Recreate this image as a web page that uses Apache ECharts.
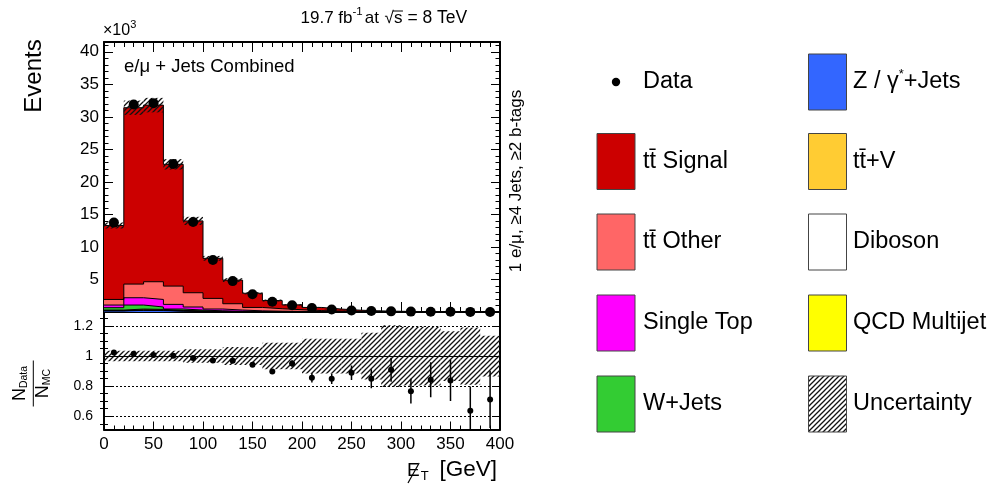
<!DOCTYPE html>
<html>
<head>
<meta charset="utf-8">
<script src="https://cdn.jsdelivr.net/npm/echarts@6/dist/echarts.min.js"></script>
<style>
  html, body { margin: 0; padding: 0; background: #fff; }
  #chart { width: 992px; height: 489px; }
</style>
</head>
<body>
<div id="chart"></div>
<script>
// Missing transverse energy, 20 GeV bins from 0 to 400 GeV
const binEdges = [0, 20, 40, 60, 80, 100, 120, 140, 160, 180, 200, 220, 240, 260, 280, 300, 320, 340, 360, 380, 400];
const binCenters = [10, 30, 50, 70, 90, 110, 130, 150, 170, 190, 210, 230, 250, 270, 290, 310, 330, 350, 370, 390];

// Expected yields per bin, in thousands of events
const zJets     = [0.17, 0.25, 0.22, 0.14, 0.08, 0.055, 0.033, 0.022, 0.016, 0.011, 0.008, 0.005, 0.004, 0.003, 0.002, 0.0016, 0.001, 0.0008, 0.0005, 0.0005];
const diboson   = [0.03, 0.04, 0.04, 0.025, 0.015, 0.01, 0.006, 0.004, 0.003, 0.002, 0.0015, 0.001, 0.001, 0.0005, 0.0005, 0.0004, 0.0003, 0.0002, 0.0002, 0.0002];
const qcd       = [0.02, 0.03, 0.02, 0.01, 0.005, 0.003, 0.002, 0.001, 0.001, 0.001, 0.0005, 0.0005, 0, 0, 0, 0, 0, 0, 0, 0];
const ttV       = [0.08, 0.13, 0.12, 0.075, 0.05, 0.032, 0.019, 0.013, 0.01, 0.006, 0.005, 0.0035, 0.003, 0.0015, 0.0015, 0.001, 0.0007, 0.0005, 0.0003, 0.0003];
const wJets     = [0.36, 0.62, 0.37, 0.21, 0.15, 0.08, 0.06, 0.04, 0.02, 0.015, 0.01, 0.008, 0.005, 0.004, 0.002, 0.001, 0.001, 0.0005, 0.0005, 0.0003];
const singleTop = [0.41, 1.12, 1.16, 0.71, 0.47, 0.28, 0.18, 0.10, 0.07, 0.045, 0.025, 0.017, 0.012, 0.007, 0.005, 0.004, 0.002, 0.002, 0.0015, 0.0007];
const ttOther   = [0.86, 2.10, 2.72, 2.81, 2.19, 1.63, 0.97, 0.52, 0.38, 0.27, 0.17, 0.105, 0.065, 0.044, 0.029, 0.019, 0.013, 0.008, 0.005, 0.004];
const ttSignal  = [11.37, 27.11, 27.15, 18.72, 11.04, 6.16, 3.63, 2.18, 1.26, 0.75, 0.48, 0.31, 0.18, 0.11, 0.07, 0.048, 0.032, 0.022, 0.014, 0.009];

// Observed events per bin, in thousands
const dataCounts = [13.74, 31.9, 32.1, 22.75, 13.82, 8.0, 4.75, 2.72, 1.58, 1.05, 0.60, 0.38, 0.24, 0.145, 0.10, 0.058, 0.042, 0.0285, 0.014, 0.0107];

// Data / MC ratio and its statistical error
const ratioValues = [1.024, 1.016, 1.007, 1.002, 0.987, 0.971, 0.969, 0.942, 0.898, 0.951, 0.856, 0.849, 0.889, 0.849, 0.909, 0.767, 0.843, 0.838, 0.637, 0.712];
const ratioErrors = [0.004, 0.003, 0.003, 0.003, 0.004, 0.005, 0.007, 0.009, 0.012, 0.022, 0.031, 0.035, 0.048, 0.063, 0.08, 0.082, 0.116, 0.136, 0.16, 0.19];

// Relative systematic uncertainty on the total expectation
const uncRel = [0.035, 0.035, 0.035, 0.035, 0.045, 0.045, 0.06, 0.06, 0.088, 0.088, 0.115, 0.115, 0.115, 0.155, 0.205, 0.195, 0.195, 0.165, 0.19, 0.135];

// Axis labels
const ratioTickLabels = [0.6, 0.8, 1.0, 1.2];
const ratioMinorTicks = [0.55, 0.65, 0.7, 0.75, 0.85, 0.9, 0.95, 1.05, 1.1, 1.15, 1.25];

const FONT = '"Liberation Sans", Arial, sans-serif';

// Stack order, bottom to top
const layers = [
  { name: 'Z / γ*+Jets', values: zJets,     color: '#3366ff' },
  { name: 'Diboson',     values: diboson,   color: '#ffffff' },
  { name: 'QCD Multijet',values: qcd,       color: '#ffff00' },
  { name: 'tt̄+V',        values: ttV,       color: '#ffcc33' },
  { name: 'W+Jets',      values: wJets,     color: '#33cc33' },
  { name: 'Single Top',  values: singleTop, color: '#ff00ff' },
  { name: 'tt̄ Other',    values: ttOther,   color: '#ff6666' },
  { name: 'tt̄ Signal',   values: ttSignal,  color: '#cc0000' }
];

const cumulative = [];
layers.forEach((layer, k) => {
  cumulative.push(layer.values.map((v, i) => v + (k > 0 ? cumulative[k - 1][i] : 0)));
});
const mcTotal = cumulative[cumulative.length - 1];

// Diagonal hatch pattern for the uncertainty bands
function makeHatch() {
  const s = 5;
  const c = document.createElement('canvas');
  c.width = s; c.height = s;
  const ctx = c.getContext('2d');
  ctx.strokeStyle = '#111';
  ctx.lineWidth = 1.3;
  ctx.beginPath();
  ctx.moveTo(0, s); ctx.lineTo(s, 0);
  ctx.moveTo(-1, 1); ctx.lineTo(1, -1);
  ctx.moveTo(s - 1, s + 1); ctx.lineTo(s + 1, s - 1);
  ctx.stroke();
  return c;
}
const hatchCanvas = makeHatch();
const hatchFill = { image: hatchCanvas, repeat: 'repeat' };

// Text helpers
const mctx = document.createElement('canvas').getContext('2d');
function textWidth(t, size) {
  mctx.font = size + 'px ' + FONT;
  return mctx.measureText(t).width;
}
function textEl(x, y, t, size, extra) {
  extra = extra || {};
  return Object.assign({
    type: 'text', x: x, y: y, silent: true,
    style: {
      text: t, font: size + 'px ' + FONT, fill: '#000',
      align: extra.align || 'left', verticalAlign: extra.va || 'middle',
      textAlign: extra.align || 'left', textVerticalAlign: extra.va || 'middle'
    }
  }, extra.rotation !== undefined ? { rotation: extra.rotation } : {});
}
// Lays out a run of text pieces (with optional super/subscripts) from x
function textRun(x, yMid, parts, elements) {
  let cx = x;
  const boxes = [];
  parts.forEach(p => {
    const w = textWidth(p.t, p.s);
    cx += p.pre || 0;
    elements.push(textEl(cx, yMid + (p.dy || 0), p.t, p.s));
    boxes.push({ x: cx, w: w, p: p });
    cx += w + (p.post || 0);
  });
  return { end: cx, boxes: boxes };
}
function runWidth(parts) {
  return parts.reduce((a, p) => a + textWidth(p.t, p.s) + (p.pre || 0) + (p.post || 0), 0);
}
function lineEl(x1, y1, x2, y2, w) {
  return { type: 'line', silent: true, shape: { x1: x1, y1: y1, x2: x2, y2: y2 }, style: { stroke: '#000', lineWidth: w || 1 } };
}

const graphics = [];

// Luminosity and energy
{
  const r = textRun(300.5, 18.5, [
    { t: '19.7 fb', s: 17 },
    { t: '-1', s: 11.5, dy: -6.5, post: 2 },
    { t: 'at ', s: 17, post: 1 },
    { t: '√', s: 17 },
    { t: 's', s: 17, post: 5 },
    { t: '= 8 TeV', s: 17.5 }
  ], graphics);
  const sBox = r.boxes[4];
  graphics.push(lineEl(sBox.x - 1, 11, sBox.x + sBox.w + 0.5, 11, 1));
}

// ×10^3 multiplier
textRun(103, 31, [{ t: '×10', s: 16 }, { t: '3', s: 11, dy: -6 }], graphics);

// Channel label
graphics.push(textEl(124, 67, 'e/μ + Jets Combined', 18.5));

// Selection label (rotated)
graphics.push(textEl(516, 181, '1 e/μ, ≥4 Jets, ≥2 b-tags', 17, { align: 'center', rotation: Math.PI / 2 }));

// Y axis titles
graphics.push(textEl(34, 76, 'Events', 24, { align: 'center', rotation: Math.PI / 2 }));
{
  const kids = [];
  const num = [{ t: 'N', s: 18 }, { t: 'Data', s: 10.5, dy: 4.5 }];
  const den = [{ t: 'N', s: 18 }, { t: 'MC', s: 10.5, dy: 4.5 }];
  textRun(-runWidth(num) / 2, -13.5, num, kids);
  textRun(-runWidth(den) / 2, 9.5, den, kids);
  kids.push(lineEl(-23, 0, 23, 0, 1));
  graphics.push({ type: 'group', x: 33.3, y: 383.5, rotation: Math.PI / 2, children: kids });
}

// X axis title with slashed E
{
  const r = textRun(407, 470.5, [{ t: 'E', s: 19, post: 1 }, { t: 'T', s: 13, dy: 6 }], graphics);
  graphics.push(textEl(497, 470, '[GeV]', 22.5, { align: 'right' }));
  const e = r.boxes[0];
  graphics.push(lineEl(e.x + 1, 483, e.x + e.w - 0.5, 463, 1.2));
}

// Legend
{
  const rows = [82, 161.5, 242, 323, 404];
  const bw = 38, bh = 56;
  const col1Box = 597, col1Text = 643, col2Box = 808.5, col2Text = 853;
  const LF = 23.5;
  const box = (x, yc, fill) => ({
    type: 'rect', silent: true,
    shape: { x: x, y: yc - bh / 2, width: bw, height: bh },
    style: { fill: fill, stroke: '#444', lineWidth: 1 }
  });
  const byName = n => layers.find(l => l.name === n).color;
  // Column 1
  graphics.push({ type: 'circle', silent: true, shape: { cx: 616, cy: rows[0], r: 4.2 }, style: { fill: '#000' } });
  graphics.push(textEl(col1Text, rows[0], 'Data', LF));
  const col1 = ['tt̄ Signal', 'tt̄ Other', 'Single Top', 'W+Jets'];
  col1.forEach((n, i) => {
    graphics.push(box(col1Box, rows[i + 1], byName(n)));
    graphics.push(textEl(col1Text, rows[i + 1], n, LF));
  });
  // Column 2
  graphics.push(box(col2Box, rows[0], byName('Z / γ*+Jets')));
  textRun(col2Text, rows[0], [{ t: 'Z / γ', s: LF }, { t: '*', s: 13, dy: -8 }, { t: '+Jets', s: LF }], graphics);
  const col2 = ['tt̄+V', 'Diboson', 'QCD Multijet'];
  col2.forEach((n, i) => {
    graphics.push(box(col2Box, rows[i + 1], byName(n)));
    graphics.push(textEl(col2Text, rows[i + 1], n, LF));
  });
  graphics.push(box(col2Box, rows[4], hatchFill));
  graphics.push(textEl(col2Text, rows[4], 'Uncertainty', LF));
}

// Axes
const axisLine = { show: true, onZero: false, lineStyle: { color: '#000', width: 2 } };
const tickStyle = { color: '#000', width: 1 };

function xAxis(grid, pos, labels, major, minor) {
  return {
    type: 'value', gridIndex: grid, position: pos, min: 0, max: 400, interval: 50,
    axisLine: axisLine,
    axisTick: { show: true, inside: true, length: major, lineStyle: tickStyle },
    minorTick: { show: true, splitNumber: 5, length: minor, lineStyle: tickStyle },
    axisLabel: labels ? { show: true, fontSize: 17, fontFamily: FONT, color: '#000', margin: 6 } : { show: false },
    splitLine: { show: false }, minorSplitLine: { show: false }
  };
}
function yTop(pos, labels) {
  return {
    type: 'value', gridIndex: 0, position: pos, min: 0, max: 41.5, interval: 5,
    axisLine: axisLine,
    axisTick: { show: true, inside: true, length: 9, lineStyle: tickStyle },
    minorTick: { show: true, splitNumber: 5, length: 4.5, lineStyle: tickStyle },
    axisLabel: labels ? {
      show: true, fontSize: 17, fontFamily: FONT, color: '#000', margin: 5, showMaxLabel: false,
      formatter: v => (v > 0 && v % 5 === 0) ? String(v) : ''
    } : { show: false },
    splitLine: { show: false }
  };
}
function yRatio(pos, labels, ticks, len, line) {
  return {
    type: 'value', gridIndex: 1, position: pos, min: 0.512, max: 1.293,
    axisLine: line ? axisLine : { show: false },
    axisTick: { show: true, inside: true, length: len, customValues: ticks, lineStyle: tickStyle },
    axisLabel: labels ? {
      show: true, fontSize: 14, fontFamily: FONT, color: '#000', margin: 11,
      customValues: ratioTickLabels, formatter: v => String(Math.round(v * 10) / 10)
    } : { show: false },
    splitLine: { show: false }
  };
}

const series = [];

// Stacked expectation, drawn from the top layer down so lower layers cover it
for (let k = layers.length - 1; k >= 0; k--) {
  const cum = cumulative[k];
  series.push({
    type: 'line', name: layers[k].name, xAxisIndex: 0, yAxisIndex: 0,
    step: 'end', symbol: 'none', silent: true, animation: false,
    data: binEdges.map((e, i) => [e, cum[Math.min(i, cum.length - 1)]]),
    lineStyle: { color: '#000', width: 1 },
    areaStyle: { color: layers[k].color, opacity: 1 },
    z: 2
  });
}

// Hatched uncertainty on the total expectation
function bandRender(params, api) {
  const p0 = api.coord([api.value(0), api.value(3)]);
  const p1 = api.coord([api.value(1), api.value(2)]);
  return {
    type: 'rect',
    shape: { x: p0[0], y: p0[1], width: p1[0] - p0[0], height: p1[1] - p0[1] },
    style: { fill: hatchFill, stroke: null }
  };
}
series.push({
  type: 'custom', xAxisIndex: 0, yAxisIndex: 0, silent: true, animation: false, clip: true,
  renderItem: bandRender, encode: { x: [0, 1], y: [2, 3] },
  data: mcTotal.map((t, i) => [binEdges[i], binEdges[i + 1], t * (1 - uncRel[i]), t * (1 + uncRel[i])]),
  z: 3
});

// Observed data
series.push({
  type: 'scatter', xAxisIndex: 0, yAxisIndex: 0, silent: true, animation: false,
  symbol: 'circle', symbolSize: 10, itemStyle: { color: '#000', opacity: 1 },
  data: binCenters.map((x, i) => [x, dataCounts[i]]),
  z: 5
});

// Ratio panel: uncertainty band around unity
series.push({
  type: 'custom', xAxisIndex: 2, yAxisIndex: 2, silent: true, animation: false, clip: true,
  renderItem: bandRender, encode: { x: [0, 1], y: [2, 3] },
  data: uncRel.map((u, i) => [binEdges[i], binEdges[i + 1], 1 - u, 1 + u]),
  z: 2
});

// Reference lines
series.push({
  type: 'line', xAxisIndex: 2, yAxisIndex: 2, data: [], silent: true, animation: false,
  markLine: {
    silent: true, symbol: ['none', 'none'], label: { show: false }, animation: false,
    lineStyle: { color: '#000', width: 1, type: [2, 2] },
    data: [
      { yAxis: 1.2 }, { yAxis: 0.8 }, { yAxis: 0.6 },
      { yAxis: 1.0, lineStyle: { type: 'solid', width: 1.2, color: '#000' } }
    ]
  },
  z: 3
});

// Ratio error bars
series.push({
  type: 'custom', xAxisIndex: 2, yAxisIndex: 2, silent: true, animation: false, clip: true,
  encode: { x: 0, y: [1, 2] },
  data: binCenters.map((x, i) => [x, ratioValues[i] - ratioErrors[i], ratioValues[i] + ratioErrors[i]]),
  renderItem: (params, api) => {
    const a = api.coord([api.value(0), api.value(1)]);
    const b = api.coord([api.value(0), api.value(2)]);
    return { type: 'line', shape: { x1: a[0], y1: a[1], x2: b[0], y2: b[1] }, style: { stroke: '#000', lineWidth: 1.5 } };
  },
  z: 4
});

// Ratio points
series.push({
  type: 'scatter', xAxisIndex: 2, yAxisIndex: 2, silent: true, animation: false,
  symbol: 'circle', symbolSize: 6, itemStyle: { color: '#000', opacity: 1 },
  data: binCenters.map((x, i) => [x, ratioValues[i]]),
  z: 5
});

const chart = echarts.init(document.getElementById('chart'), null, { renderer: 'canvas' });
chart.setOption({
  animation: false,
  backgroundColor: '#fff',
  grid: [
    { left: 104, top: 42, width: 396, height: 270 },
    { left: 104, top: 312, width: 396, height: 117.5 }
  ],
  xAxis: [
    xAxis(0, 'bottom', false, 10, 5),
    xAxis(0, 'top', false, 10, 5),
    xAxis(1, 'bottom', true, 8, 4),
    Object.assign(xAxis(1, 'top', false, 0, 0), { axisTick: { show: false }, minorTick: { show: false } })
  ],
  yAxis: [
    yTop('left', true),
    yTop('right', false),
    yRatio('left', true, ratioTickLabels, 8, true),
    yRatio('right', false, ratioTickLabels, 8, true),
    yRatio('left', false, ratioMinorTicks, 4, false),
    yRatio('right', false, ratioMinorTicks, 4, false)
  ],
  series: series,
  graphic: { elements: graphics }
});
</script>
</body>
</html>
